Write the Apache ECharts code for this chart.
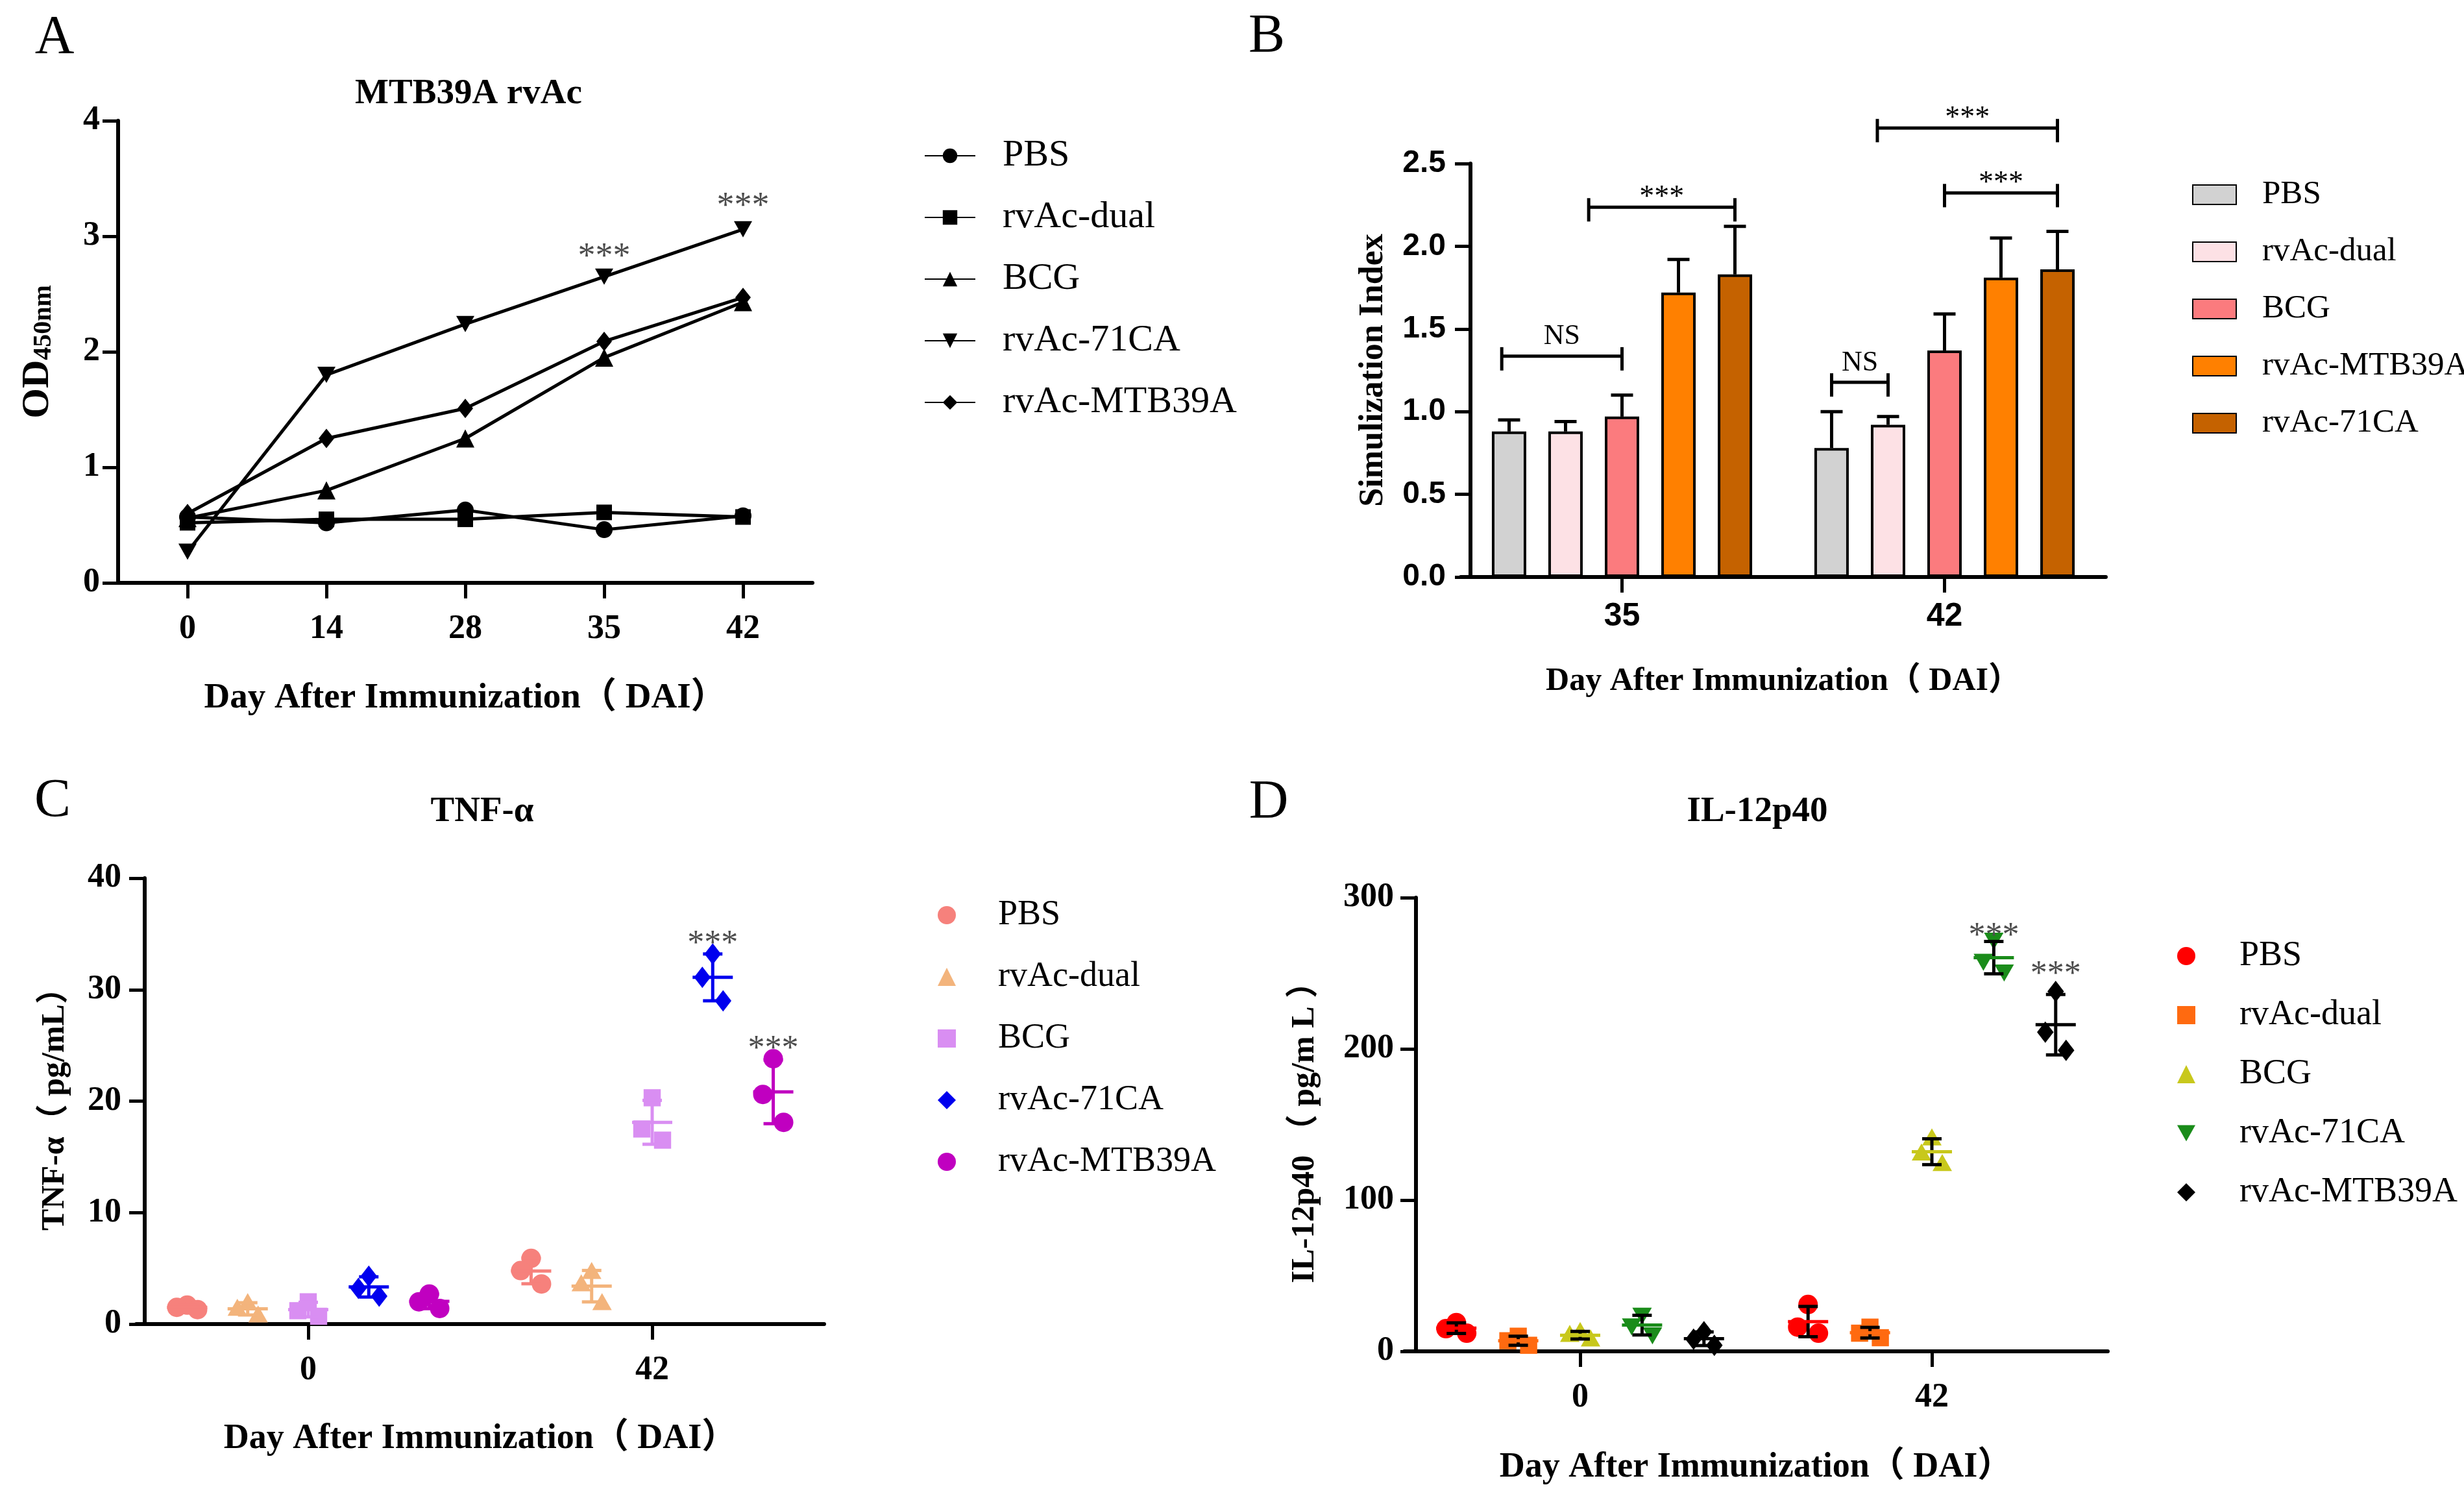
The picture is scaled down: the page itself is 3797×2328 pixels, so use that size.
<!DOCTYPE html>
<html><head><meta charset="utf-8">
<script src="https://cdn.jsdelivr.net/npm/echarts@6/dist/echarts.min.js"></script>
<style>html,body{margin:0;padding:0;background:#fff}#c{width:3797px;height:2328px}</style>
</head><body><div id="c"></div>
<script>
// ================= DATA =================
// Panel A : OD450nm over days
const daysA = ['0', '14', '28', '35', '42'];
const groupsA = ['PBS', 'rvAc-dual', 'BCG', 'rvAc-71CA', 'rvAc-MTB39A'];
const odPBS = [0.57, 0.52, 0.63, 0.46, 0.58];
const odDual = [0.52, 0.55, 0.55, 0.61, 0.57];
const odBCG = [0.56, 0.80, 1.25, 1.95, 2.43];
const od71CA = [0.27, 1.80, 2.24, 2.65, 3.06];
const odMTB39A = [0.60, 1.25, 1.51, 2.09, 2.47];
const sigA = [[3, 2.87, '***'], [4, 3.31, '***']];           // [day index, value, text]

// Panel B : Simulization Index (mean, upper SD)
const daysB = ['35', '42'];
const groupsB = ['PBS', 'rvAc-dual', 'BCG', 'rvAc-MTB39A', 'rvAc-71CA'];
const siPBS = [0.88, 0.78];   const errPBS = [0.07, 0.22];
const siDual = [0.88, 0.92];  const errDual = [0.06, 0.05];
const siBCG = [0.97, 1.37];   const errBCG = [0.13, 0.22];
const siMTB39A = [1.72, 1.81]; const errMTB39A = [0.20, 0.24];
const si71CA = [1.83, 1.86];  const err71CA = [0.29, 0.23];
// [day index, from bar, to bar, value, text]
const bracketsB = [
  [0, -0.13, 2, 1.335, 'NS'],
  [0, 1.41, 4, 2.236, '***'],
  [1, 0, 1, 1.177, 'NS'],
  [1, 2, 4, 2.322, '***'],
  [1, 0.81, 4, 2.715, '***']
];

// Panel C : TNF-α (three replicates per group per day)
const daysC = ['0', '42'];
const groupsC = ['PBS', 'rvAc-dual', 'BCG', 'rvAc-71CA', 'rvAc-MTB39A'];
const tnfPBS = [[1.7, 1.5, 1.3], [5.9, 4.8, 3.6]];
const tnfDual = [[1.9, 1.4, 0.8], [4.7, 3.6, 1.9]];
const tnfBCG = [[2.0, 1.2, 0.7], [20.3, 17.5, 16.5]];
const tnf71CA = [[4.3, 3.2, 2.5], [33.2, 31.1, 29.0]];
const tnfMTB39A = [[2.7, 2.0, 1.4], [23.8, 20.6, 18.1]];
const sigC = [[3, 1, 34.6, '***'], [4, 1, 25.2, '***']];      // [group, day index, value, text]

// Panel D : IL-12p40
const daysD = ['0', '42'];
const groupsD = ['PBS', 'rvAc-dual', 'BCG', 'rvAc-71CA', 'rvAc-MTB39A'];
const ilPBS = [[19, 15, 12], [31, 16, 12]];
const ilDual = [[10, 7, 4], [16, 12, 9]];
const ilBCG = [[13, 11, 8], [141, 131, 124]];
const il71CA = [[24, 17, 11], [272, 258, 251]];
const ilMTB39A = [[13, 8, 4], [238, 211, 199]];
const sigD = [[3, 1, 278.5, '***'], [4, 1, 253, '***']];

// ================= STYLE =================
const SERIF = "'Liberation Serif','Times New Roman','Noto Sans CJK SC',serif";
const SANS = "'Liberation Sans',Arial,sans-serif";
const colorsB = ['#d2d2d2', '#fde1e5', '#fb7b7e', '#ff8000', '#c56200'];
const colorsC = ['#f6817c', '#f3b47c', '#d98ef2', '#0000ee', '#c000c0'];
const shapesC = ['circle', 'triangle', 'rect', 'diamond', 'circle'];
const colorsD = ['#ff0000', '#ff6a10', '#c8c81c', '#1a8c1a', '#000000'];
const shapesD = ['circle', 'rect', 'triangle', 'triangleDown', 'diamond'];
const DOWN_TRI = 'path://M0,0L10,0L5,9Z';
const legendIcon = {circle: 'circle', rect: 'rect', triangle: 'triangle', diamond: 'diamond', triangleDown: DOWN_TRI};

const BAR_W = 53, BAR_GAP = 34;
const GROUP_STEP = 0.176, JIT = 16, SYM = 30;

function shapeEl(kind, x, y, s, color) {
  const h = s / 2;
  const st = {fill: color};
  if (kind === 'circle') return {type: 'circle', shape: {cx: x, cy: y, r: h}, style: st};
  if (kind === 'rect') return {type: 'rect', shape: {x: x - h * 0.88, y: y - h * 0.88, width: s * 0.88, height: s * 0.88}, style: st};
  if (kind === 'triangle') return {type: 'polygon', shape: {points: [[x, y - h], [x + h, y + h * 0.75], [x - h, y + h * 0.75]]}, style: st};
  if (kind === 'triangleDown') return {type: 'polygon', shape: {points: [[x, y + h], [x + h, y - h * 0.75], [x - h, y - h * 0.75]]}, style: st};
  return {type: 'polygon', shape: {points: [[x, y - h * 1.1], [x + h * 0.85, y], [x, y + h * 1.1], [x - h * 0.85, y]]}, style: st};
}
function seg(x1, y1, x2, y2, color, w) {
  return {type: 'line', shape: {x1, y1, x2, y2}, style: {stroke: color, lineWidth: w || 5}};
}

// ================= AXES =================
const axisLineStyle = {lineStyle: {color: '#000', width: 6}};
const tickStyle = {show: true, length: 24, lineStyle: {color: '#000', width: 5}};
function catX(grid, data, labelFont, labelSize, margin, name, nameSize, nameGap) {
  return {
    type: 'category', gridIndex: grid, data, boundaryGap: true,
    axisLine: axisLineStyle, axisTick: Object.assign({alignWithLabel: true}, tickStyle),
    axisLabel: {fontFamily: labelFont, fontWeight: 'bold', fontSize: labelSize, color: '#000', margin},
    name, nameLocation: 'middle', nameGap,
    nameTextStyle: {fontFamily: SERIF, fontWeight: 'bold', fontSize: nameSize, color: '#000'}
  };
}
function valY(grid, min, max, interval, labelFont, labelSize, margin, offset, name, nameStyle, nameGap, fmt) {
  return {
    type: 'value', gridIndex: grid, min, max, interval, offset,
    axisLine: Object.assign({show: true}, axisLineStyle), axisTick: tickStyle, splitLine: {show: false},
    axisLabel: {fontFamily: labelFont, fontWeight: 'bold', fontSize: labelSize, color: '#000', margin, formatter: fmt},
    name, nameLocation: 'middle', nameGap, nameTextStyle: nameStyle
  };
}

const grid = [
  {left: 182, top: 186, width: 1070, height: 712},
  {left: 2251, top: 252, width: 994, height: 637},
  {left: 210, top: 1353, width: 1060, height: 687},
  {left: 2164, top: 1383, width: 1084, height: 699}
];

const xAxis = [
  catX(0, daysA, SERIF, 52, 46, 'Day After Immunization（ DAI）', 55, 150),
  catX(1, daysB, SANS, 50, 36, 'Day After Immunization（ DAI）', 50, 136),
  catX(2, daysC, SERIF, 52, 46, 'Day After Immunization（ DAI）', 54, 150),
  catX(3, daysD, SERIF, 52, 46, 'Day After Immunization（ DAI）', 54, 152)
];
const yAxis = [
  valY(0, 0, 4, 1, SERIF, 52, 28, 0, '{m|OD}{s|450nm}', {
      rich: {m: {fontFamily: SERIF, fontWeight: 'bold', fontSize: 60, color: '#000'},
             s: {fontFamily: SERIF, fontWeight: 'bold', fontSize: 40, color: '#000', verticalAlign: 'bottom', padding: [14, 0, 0, 0]}}
    }, 94),
  valY(1, 0, 2.5, 0.5, SANS, 48, 38, -15, 'Simulization Index',
    {fontFamily: SERIF, fontWeight: 'bold', fontSize: 52, color: '#000'}, 123, v => v.toFixed(1)),
  valY(2, 0, 40, 10, SERIF, 52, 36, -13, 'TNF-α（ pg/mL）',
    {fontFamily: SERIF, fontWeight: 'bold', fontSize: 50, color: '#000'}, 113),
  valY(3, 0, 300, 100, SERIF, 52, 34, -18, 'IL-12p40 （ pg/m L ）',
    {fontFamily: SERIF, fontWeight: 'bold', fontSize: 50, color: '#000'}, 146)
];

// ================= SERIES =================
const series = [];

// --- Panel A lines
const linesA = [odPBS, odDual, odBCG, od71CA, odMTB39A];
const symA = ['circle', 'rect', 'triangle', DOWN_TRI, 'diamond'];
const symSizeA = [26, 24, 28, [28, 25], [24, 30]];
linesA.forEach((d, i) => {
  series.push({
    type: 'line', name: 'A:' + groupsA[i], xAxisIndex: 0, yAxisIndex: 0, data: d,
    symbol: symA[i], symbolSize: symSizeA[i], showSymbol: true,
    lineStyle: {color: '#000', width: 5}, itemStyle: {color: '#000'}, z: 3
  });
});
series.push({
  type: 'custom', name: 'A:sig', xAxisIndex: 0, yAxisIndex: 0, z: 5,
  data: sigA.map(s => [s[0], s[1]]), encode: {x: 0, y: 1},
  renderItem(params, api) {
    const p = api.coord([api.value(0), api.value(1)]);
    return {type: 'text', x: p[0], y: p[1] + 10, style: {text: sigA[params.dataIndex][2], fontFamily: SERIF, fontSize: 54, fill: '#4d4d4d', align: 'center', verticalAlign: 'middle'}};
  }
});

// --- Panel B bars
const barsB = [siPBS, siDual, siBCG, siMTB39A, si71CA];
const errsB = [errPBS, errDual, errBCG, errMTB39A, err71CA];
barsB.forEach((d, i) => {
  series.push({
    type: 'bar', name: 'B:' + groupsB[i], xAxisIndex: 1, yAxisIndex: 1, data: d,
    barWidth: BAR_W, barGap: (BAR_GAP / BAR_W * 100).toFixed(1) + '%',
    itemStyle: {color: colorsB[i], borderColor: '#000', borderWidth: 4}, z: 2
  });
});
const errDataB = [];
barsB.forEach((d, i) => d.forEach((v, ci) => errDataB.push([ci, v, errsB[i][ci], i])));
series.push({
  type: 'custom', name: 'B:err', xAxisIndex: 1, yAxisIndex: 1, z: 4,
  data: errDataB, encode: {x: 0, y: 1},
  renderItem(params, api) {
    const ci = api.value(0), m = api.value(1), e = api.value(2), gi = api.value(3);
    const base = api.coord([ci, m]);
    const x = base[0] + (gi - 2) * (BAR_W + BAR_GAP);
    const yt = api.coord([ci, m + e])[1];
    return {type: 'group', children: [seg(x, base[1], x, yt, '#000', 5), seg(x - 17, yt, x + 17, yt, '#000', 5)]};
  }
});
series.push({
  type: 'custom', name: 'B:brk', xAxisIndex: 1, yAxisIndex: 1, z: 4, clip: false,
  data: bracketsB.map(b => [b[0], b[3]]), encode: {x: 0, y: 1},
  renderItem(params, api) {
    const b = bracketsB[params.dataIndex];
    const c = api.coord([b[0], b[3]]);
    const step = BAR_W + BAR_GAP;
    const x1 = c[0] + (b[1] - 2) * step, x2 = c[0] + (b[2] - 2) * step, y = c[1];
    const isNS = b[4] === 'NS';
    return {type: 'group', children: [
      seg(x1, y, x2, y, '#000', 5),
      seg(x1, y - 14, x1, y + 22, '#000', 5),
      seg(x2, y - 14, x2, y + 22, '#000', 5),
      {type: 'text', x: (x1 + x2) / 2, y: isNS ? y - 30 : y - 14,
       style: {text: b[4], fontFamily: SERIF, fontSize: isNS ? 44 : 46, fill: '#000', align: 'center', verticalAlign: 'middle'}}
    ]};
  }
});

// --- Panels C & D scatter dot plots
function groupSeries(prefix, gridIdx, name, gi, color, shape, vals, sdColor) {
  return {
    type: 'custom', name: prefix + name, xAxisIndex: gridIdx, yAxisIndex: gridIdx, z: 3,
    itemStyle: {color},
    data: vals.map((v, ci) => [ci, v[0], v[1], v[2]]),
    encode: {x: 0, y: [1, 2, 3]},
    renderItem(params, api) {
      const ci = api.value(0);
      const v = [api.value(1), api.value(2), api.value(3)];
      const band = api.size([1, 0])[0];
      const cx = api.coord([ci, 0])[0] + (gi - 2) * GROUP_STEP * band;
      const sorted = v.slice().sort((a, b) => b - a);
      const offs = [0, -JIT, JIT];
      const ch = [];
      sorted.forEach((val, k) => {
        const y = api.coord([ci, val])[1];
        ch.push(shapeEl(shape, cx + offs[k], y, SYM, color));
      });
      const mean = (v[0] + v[1] + v[2]) / 3;
      const sd = Math.sqrt(v.reduce((s, x) => s + (x - mean) * (x - mean), 0) / 2);
      const ym = api.coord([ci, mean])[1];
      const yt = api.coord([ci, mean + sd])[1];
      const yb = api.coord([ci, mean - sd])[1];
      ch.push(seg(cx, yt, cx, yb, sdColor, 5));
      ch.push(seg(cx - 15, yt, cx + 15, yt, sdColor, 5));
      ch.push(seg(cx - 15, yb, cx + 15, yb, sdColor, 5));
      ch.push(seg(cx - 31, ym, cx + 31, ym, color, 5));
      return {type: 'group', children: ch};
    }
  };
}
function sigSeries(prefix, gridIdx, items) {
  return {
    type: 'custom', name: prefix + 'sig', xAxisIndex: gridIdx, yAxisIndex: gridIdx, z: 5, clip: false,
    data: items.map(s => [s[1], s[2], s[0]]), encode: {x: 0, y: 1},
    renderItem(params, api) {
      const band = api.size([1, 0])[0];
      const p = api.coord([api.value(0), api.value(1)]);
      const x = p[0] + (api.value(2) - 2) * GROUP_STEP * band;
      return {type: 'text', x, y: p[1] + 10, style: {text: items[params.dataIndex][3], fontFamily: SERIF, fontSize: 52, fill: '#4d4d4d', align: 'center', verticalAlign: 'middle'}};
    }
  };
}
const valsC = [tnfPBS, tnfDual, tnfBCG, tnf71CA, tnfMTB39A];
valsC.forEach((v, i) => series.push(groupSeries('C:', 2, groupsC[i], i, colorsC[i], shapesC[i], v, colorsC[i])));
series.push(sigSeries('C:', 2, sigC));
const valsD = [ilPBS, ilDual, ilBCG, il71CA, ilMTB39A];
valsD.forEach((v, i) => series.push(groupSeries('D:', 3, groupsD[i], i, colorsD[i], shapesD[i], v, '#000')));
series.push(sigSeries('D:', 3, sigD));

// ================= LEGENDS =================
const strip = n => n.slice(2);
const legendText = (pad, size) => ({fontFamily: SERIF, fontSize: size, color: '#000', lineHeight: 58, padding: [0, 0, 0, pad]});
const legend = [
  {orient: 'vertical', left: 1419, top: 206, itemWidth: 78, itemHeight: 28, itemGap: 37,
   data: groupsA.map(g => 'A:' + g), formatter: strip, textStyle: legendText(37, 58), selectedMode: false},
  {orient: 'vertical', left: 3373, top: 266, itemWidth: 67, itemHeight: 30, itemGap: 30, icon: 'rect',
   data: groupsB.map(g => 'B:' + g), formatter: strip, textStyle: legendText(35, 51), selectedMode: false},
  {orient: 'vertical', left: 1440, top: 1376, itemWidth: 28, itemHeight: 28, itemGap: 37,
   data: groupsC.map((g, i) => ({name: 'C:' + g, icon: legendIcon[shapesC[i]], itemStyle: {color: colorsC[i]}})),
   formatter: strip, textStyle: legendText(60, 54), selectedMode: false},
  {orient: 'vertical', left: 3350, top: 1439, itemWidth: 28, itemHeight: 28, itemGap: 33,
   data: groupsD.map((g, i) => ({name: 'D:' + g, icon: legendIcon[shapesD[i]], itemStyle: {color: colorsD[i]}})),
   formatter: strip, textStyle: legendText(63, 54), selectedMode: false}
];

// ================= TEXT (panel letters & titles) =================
function txt(x, y, text, size, weight) {
  return {type: 'text', x, y, style: {text, fontFamily: SERIF, fontSize: size, fontWeight: weight || 'normal', fill: '#000', align: 'center', verticalAlign: 'middle'}};
}
const graphic = [
  txt(84, 60, 'A', 84), txt(1952, 58, 'B', 84), txt(81, 1236, 'C', 84), txt(1955, 1238, 'D', 84),
  txt(722, 145, 'MTB39A rvAc', 55, 'bold'),
  txt(743, 1251, 'TNF-α', 55, 'bold'),
  txt(2708, 1251, 'IL-12p40', 55, 'bold')
];

const chart = echarts.init(document.getElementById('c'), null, {width: 3797, height: 2328});
chart.setOption({
  animation: false, backgroundColor: '#fff',
  grid, xAxis, yAxis, series, legend, graphic
});
</script></body></html>
